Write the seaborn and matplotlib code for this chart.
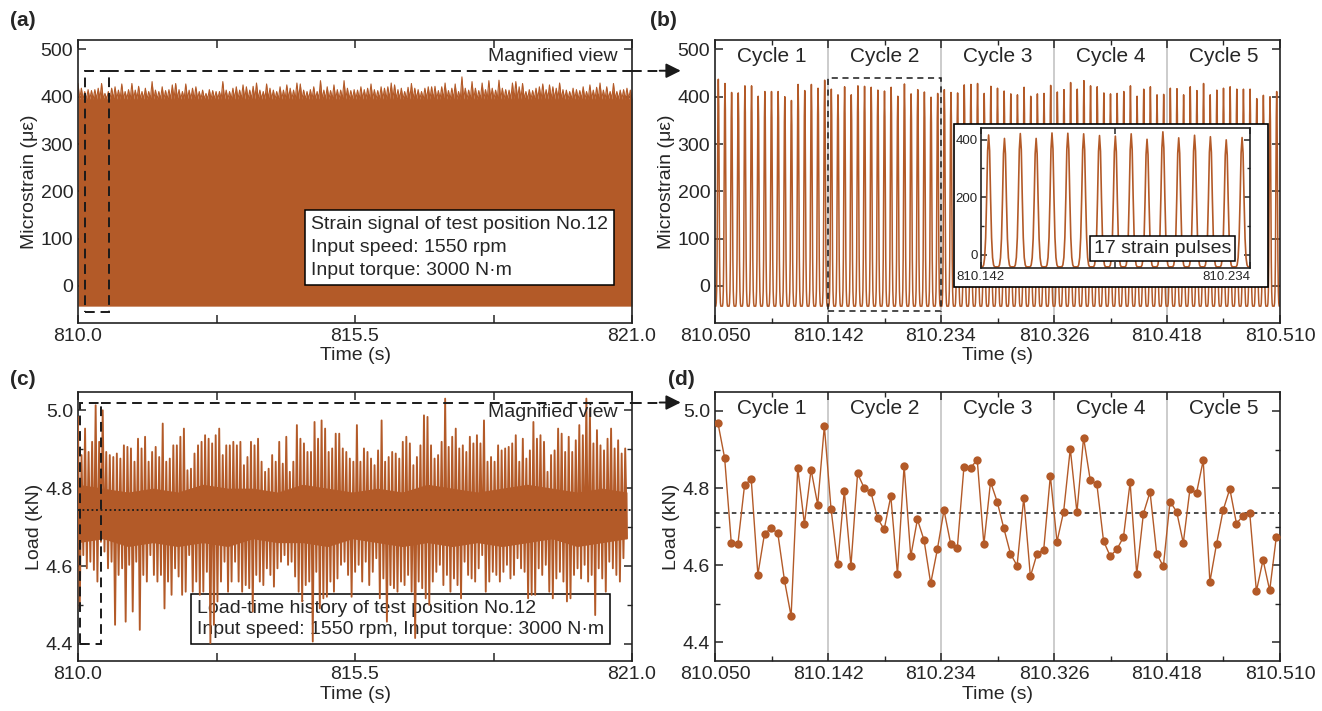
import numpy as np
import matplotlib
matplotlib.use("Agg")
import matplotlib.pyplot as plt
from matplotlib.patches import Rectangle
from matplotlib.ticker import FixedLocator, MultipleLocator
import seaborn as sns

# ---------------- data ----------------
# (a) tip heights of the dense strain pulse train, 810-821 s (µε)
strain_a_peaks = [
    428, 418, 411, 415, 413, 415, 418, 428, 407, 411, 418, 421, 414, 427, 411, 415, 428, 414, 422, 411,
    418, 411, 432, 414, 411, 421, 413, 415, 425, 428, 415, 411, 427, 414, 418, 421, 411, 414, 407, 415,
    413, 411, 411, 432, 414, 411, 418, 421, 414, 425, 421, 414, 422, 429, 414, 411, 427, 418, 414, 411,
    421, 414, 425, 418, 414, 429, 427, 414, 411, 415, 421, 411, 434, 414, 421, 413, 425, 415, 414, 434,
    418, 413, 415,
    414, 421, 415, 418, 427, 415, 413, 421, 418, 421, 429, 425, 415, 418, 411, 420, 428, 418, 415, 411,
    418, 421, 421, 422, 413, 421, 429, 413, 418, 427, 411, 442, 418, 414, 432, 418, 413, 429, 415, 434,
    418, 414, 435, 418, 415, 414, 429, 432, 421, 428, 411, 415, 413, 418, 421, 427, 415, 425, 421, 418,
    429, 415, 414, 411, 418, 415, 413, 421, 411, 425, 414, 420, 429, 414, 421, 411, 428, 411, 414, 415,
    418, 414,
]
strain_a_solid = 395     # level up to which the block is solid
strain_trough = -43      # strain between pulses

# (b) peak strain of the 85 pulses (5 cycles x 17 pulses)
strain_b_peaks = [
    437, 428, 409, 408, 423, 423, 401, 411, 411, 411, 400, 392, 426, 413, 426, 418, 435,
    416, 404, 421, 404, 423, 422, 420, 414, 412, 420, 401, 427, 406, 415, 410, 399, 407,
    415, 409, 408, 425, 426, 428, 407, 422, 418, 412, 406, 404, 420, 401, 406, 407, 424,
    410, 415, 430, 416, 434, 423, 421, 408, 406, 407, 411, 423, 401, 416, 421, 404, 405,
    418, 417, 404, 421, 413, 428, 404, 414, 418, 421, 416, 416, 416, 396, 403, 400, 411,
]
# one pulse period (fraction of trough-to-peak height)
pulse_shape = [0.0, 0.0, 0.0, 0.015, 0.07, 0.22, 0.52, 0.88, 1.0, 0.88, 0.52, 0.22, 0.07, 0.015, 0.0, 0.0]

# (c) load spike tips, upper and lower, 810-821 s (kN)
load_c_top = [
    4.983, 4.885, 4.953, 4.893, 4.919, 5.013, 4.919, 5.000, 4.893, 4.885, 4.880, 4.889, 4.876, 4.910, 4.906,
    4.902, 4.868, 4.927, 4.902, 4.932, 4.868, 4.893, 4.906, 4.880, 4.966, 4.868, 4.876, 4.910, 4.910, 4.932,
    4.953, 4.846, 4.850, 4.889, 4.910, 4.919, 4.936, 4.927, 4.915, 4.936, 4.953, 4.885, 4.910, 4.910, 4.919,
    4.910, 4.919, 4.859, 4.880, 4.919,
    4.910, 4.927, 4.868, 4.842, 4.850, 4.885, 4.868, 4.919, 4.863, 4.932, 4.842, 4.868, 4.962, 4.927, 4.915,
    4.893, 4.893, 4.970, 4.927, 4.974, 4.953, 4.893, 4.902, 4.940, 4.940, 4.902, 4.893, 4.876, 4.868, 4.962,
    4.868, 4.902, 4.893, 4.876, 4.859, 4.897, 4.974, 4.868, 4.880, 4.893, 4.889, 4.876, 4.919, 4.932, 4.915,
    4.859, 4.880, 4.910, 4.987, 4.983, 4.910,
    4.876, 4.885, 4.919, 5.030, 4.906, 4.932, 4.953, 4.902, 4.910, 4.893, 4.932, 4.915, 4.936, 4.915, 4.974,
    4.868, 4.880, 4.868, 4.910, 4.897, 4.902, 4.906, 4.915, 4.936, 4.868, 4.927, 4.876, 4.897, 4.970, 4.927,
    4.936, 4.919, 4.842, 4.885, 4.897, 4.953, 4.940, 4.893, 4.932, 4.893, 4.923, 4.962, 4.936, 5.030, 5.004,
    4.915, 4.949, 4.910, 4.897, 4.927, 4.953, 4.902, 4.923, 4.889, 4.902,
]
load_c_bottom = [
    4.491, 4.628, 4.594, 4.611, 4.590, 4.560, 4.662, 4.637, 4.594, 4.611, 4.449, 4.577, 4.594, 4.457, 4.603,
    4.483, 4.611, 4.436, 4.577, 4.560, 4.628, 4.577, 4.560, 4.577, 4.491, 4.560, 4.526, 4.594, 4.573, 4.526,
    4.534, 4.628, 4.534, 4.560, 4.526, 4.534, 4.585, 4.402, 4.449, 4.509, 4.560, 4.611, 4.534, 4.560, 4.611,
    4.560, 4.534, 4.551, 4.543, 4.483,
    4.577, 4.560, 4.551, 4.594, 4.577, 4.547, 4.594, 4.611, 4.628, 4.603, 4.611, 4.573, 4.534, 4.509, 4.551,
    4.560, 4.406, 4.585, 4.491, 4.517, 4.521, 4.560, 4.534, 4.568, 4.603, 4.611, 4.577, 4.521, 4.585, 4.603,
    4.560, 4.611, 4.551, 4.585, 4.620, 4.517, 4.568, 4.457, 4.551, 4.543, 4.534, 4.560, 4.551, 4.577, 4.534,
    4.415, 4.560, 4.543, 4.517, 4.500, 4.560,
    4.585, 4.603, 4.551, 4.577, 4.534, 4.568, 4.551, 4.517, 4.611, 4.577, 4.568, 4.560, 4.594, 4.628, 4.534,
    4.560, 4.585, 4.577, 4.560, 4.585, 4.603, 4.568, 4.577, 4.620, 4.594, 4.585, 4.517, 4.526, 4.526, 4.594,
    4.577, 4.603, 4.534, 4.517, 4.568, 4.585, 4.560, 4.509, 4.517, 4.577, 4.594, 4.568, 4.603, 4.560, 4.577,
    4.474, 4.594, 4.568, 4.534, 4.611, 4.594, 4.577, 4.560, 4.620, 4.671,
]
# (c) edges of the solid core of the load band, every 0.5 s (kN)
load_c_core_hi = [4.81, 4.80, 4.79, 4.80, 4.79, 4.81, 4.80, 4.80, 4.79, 4.81, 4.80, 4.79,
                  4.80, 4.79, 4.81, 4.80, 4.79, 4.80, 4.81, 4.80, 4.79, 4.80, 4.79]
load_c_core_lo = [4.66, 4.67, 4.65, 4.66, 4.65, 4.66, 4.65, 4.67, 4.66, 4.66, 4.65, 4.67,
                  4.66, 4.65, 4.66, 4.65, 4.66, 4.65, 4.66, 4.67, 4.65, 4.66, 4.67]
load_c_mean = 4.744

# (d) load carried by each of the 85 strain pulses (kN)
load_d = [
    4.968, 4.878, 4.658, 4.656, 4.808, 4.823, 4.576, 4.682, 4.696, 4.683, 4.561, 4.468, 4.852, 4.707, 4.848, 4.757, 4.961,
    4.747, 4.603, 4.793, 4.598, 4.838, 4.800, 4.790, 4.722, 4.693, 4.779, 4.577, 4.858, 4.623, 4.719, 4.665, 4.553, 4.641,
    4.743, 4.656, 4.644, 4.855, 4.852, 4.874, 4.654, 4.816, 4.765, 4.696, 4.630, 4.599, 4.775, 4.571, 4.630, 4.640, 4.832,
    4.661, 4.739, 4.902, 4.737, 4.931, 4.821, 4.810, 4.663, 4.624, 4.641, 4.673, 4.815, 4.577, 4.734, 4.790, 4.630, 4.597,
    4.765, 4.739, 4.658, 4.797, 4.788, 4.872, 4.557, 4.655, 4.743, 4.798, 4.708, 4.729, 4.735, 4.533, 4.614, 4.535, 4.674,
]
load_d_mean = 4.735

cycle_edges = [810.050, 810.142, 810.234, 810.326, 810.418, 810.510]
cycle_names = ["Cycle 1", "Cycle 2", "Cycle 3", "Cycle 4", "Cycle 5"]
long_ticks = [810.0, 812.75, 815.5, 818.25, 821.0]
long_labels = ["810.0", "", "815.5", "", "821.0"]

# ---------------- style ----------------
sns.set_theme(style="ticks")
plt.rcParams["font.family"] = ["Liberation Sans Narrow", "Liberation Sans", "DejaVu Sans"]
plt.rcParams.update({
    "font.size": 14,
    "axes.linewidth": 1.2,
    "axes.edgecolor": "#222222",
    "xtick.direction": "in", "ytick.direction": "in",
    "xtick.top": True, "ytick.right": True,
    "xtick.major.size": 6, "ytick.major.size": 6,
    "xtick.minor.size": 3.5, "ytick.minor.size": 3.5,
    "xtick.major.width": 1.1, "ytick.major.width": 1.1,
    "xtick.labelsize": 14, "ytick.labelsize": 14,
    "axes.labelsize": 14,
})
C = "#b35a28"

W, H = 1322, 711
fig = plt.figure(figsize=(W / 100, H / 100), dpi=100)


def box(l, t, r, b):
    return [l / W, 1 - b / H, (r - l) / W, (b - t) / H]


B_L, B_R, B_T, B_B = 715, 1280, 40, 322.7
ax_a = fig.add_axes(box(78, 40, 632, 322.7))
ax_b = fig.add_axes(box(B_L, B_T, B_R, B_B))
ax_c = fig.add_axes(box(78, 392, 632, 661))
ax_d = fig.add_axes(box(B_L, 392, B_R, 661))

# ---------------- build series ----------------
n_a = len(strain_a_peaks)
t_a = np.linspace(810.0, 821.0, 2 * n_a)
y_a = np.empty(2 * n_a)
y_a[0::2] = strain_a_peaks
y_a[1::2] = strain_a_solid

n_p = len(strain_b_peaks)
dt = (cycle_edges[-1] - cycle_edges[0]) / n_p
k = len(pulse_shape)
t_b = cycle_edges[0] + np.arange(n_p * k + 1) * dt / k
y_b = []
for pk in strain_b_peaks:
    y_b.extend(strain_trough + (pk - strain_trough) * np.array(pulse_shape))
y_b.append(strain_trough)
y_b = np.array(y_b)

n_c = len(load_c_top)
t_c = np.linspace(810.0, 820.9, 2 * n_c)
y_c = np.empty(2 * n_c)
y_c[0::2] = load_c_top
y_c[1::2] = load_c_bottom
t_core = np.linspace(810.0, 820.9, len(load_c_core_hi))

t_d = cycle_edges[0] + (np.arange(len(load_d)) + 0.45) * dt

# ---------------- (a) ----------------
ax = ax_a
ax.fill_between(t_a, strain_trough, y_a, color=C, lw=0, zorder=2)
sns.lineplot(x=t_a, y=y_a, ax=ax, color=C, lw=0.8, estimator=None, sort=False, zorder=2)
ax.set_xlim(810.0, 821.0)
ax.set_ylim(-78, 520)
ax.xaxis.set_major_locator(FixedLocator(long_ticks))
ax.set_xticklabels(long_labels)
ax.set_yticks(range(0, 501, 100))
ax.set_xlabel("Time (s)", labelpad=2)
ax.set_ylabel("Microstrain (με)", labelpad=2)
ax.add_patch(Rectangle((810.13, -55), 0.48, 510, fill=False, ls=(0, (5, 3)), lw=1.4, color="k", zorder=5))
ax.plot([810.61, 821.0], [455, 455], color="k", ls=(0, (5, 3)), lw=1.4, zorder=5)
ax.plot([1.0, 1.055], [455, 455], color="k", ls=(0, (5, 3)), lw=1.4, zorder=5,
        transform=ax.get_yaxis_transform(), clip_on=False)
ax.annotate("", xy=(1.088, 455), xycoords=ax.get_yaxis_transform(),
            xytext=(1.05, 455), textcoords=ax.get_yaxis_transform(),
            arrowprops=dict(arrowstyle="-|>", color="k", lw=1.4, mutation_scale=22, shrinkA=0, shrinkB=0))
ax.text(0.857, 0.94, "Magnified view", transform=ax.transAxes, ha="center", va="center", fontsize=14)
ax.text(0.42, 0.155, "Strain signal of test position No.12\nInput speed: 1550 rpm\nInput torque: 3000 N·m",
        transform=ax.transAxes, ha="left", va="bottom", fontsize=14, linespacing=1.45, zorder=6,
        bbox=dict(boxstyle="square,pad=0.3", fc="white", ec="black", lw=1.1))

# ---------------- (b) ----------------
ax = ax_b
for e in cycle_edges[1:-1]:
    ax.axvline(e, color="#c4c4c4", lw=1.2, zorder=0.5)
sns.lineplot(x=t_b, y=y_b, ax=ax, color=C, lw=1.1, estimator=None, sort=False, zorder=2)
ax.set_xlim(cycle_edges[0], cycle_edges[-1])
ax.set_ylim(-78, 520)
ax.xaxis.set_major_locator(FixedLocator(cycle_edges))
ax.set_xticklabels([f"{e:.3f}" for e in cycle_edges])
ax.xaxis.set_minor_locator(FixedLocator([(a + b) / 2 for a, b in zip(cycle_edges[:-1], cycle_edges[1:])]))
ax.set_yticks(range(0, 501, 100))
ax.set_xlabel("Time (s)", labelpad=2)
ax.set_ylabel("Microstrain (με)", labelpad=2)
for a, b, name in zip(cycle_edges[:-1], cycle_edges[1:], cycle_names):
    ax.text((a + b) / 2, 0.94, name, transform=ax.get_xaxis_transform(), ha="center", va="center", fontsize=15)
ax.add_patch(Rectangle((cycle_edges[1], -53), cycle_edges[2] - cycle_edges[1], 492, fill=False,
                       ls=(0, (4, 3)), lw=1.1, color="k", zorder=3))
bw, bh = B_R - B_L, B_B - B_T
ax.add_patch(Rectangle(((954 - B_L) / bw, (B_B - 287) / bh), (1268 - 954) / bw, (287 - 124) / bh,
                       transform=ax.transAxes, fc="white", ec="black", lw=1.2, zorder=6))

# inset
ins = fig.add_axes(box(980.7, 127.5, 1250, 268.3))
ins.set_zorder(5)
sns.lineplot(x=t_b, y=y_b, ax=ins, color=C, lw=1.2, estimator=None, sort=False)
ins.set_xlim(cycle_edges[1], cycle_edges[2])
ins.set_ylim(-48, 442)
ins.xaxis.set_major_locator(FixedLocator([cycle_edges[1], (cycle_edges[1] + cycle_edges[2]) / 2, cycle_edges[2]]))
ins.set_xticklabels([f"{cycle_edges[1]:.3f}", "", f"{cycle_edges[2]:.3f}"])
ins.get_xticklabels()[-1].set_horizontalalignment("right")
ins.get_xticklabels()[-1].set_x(cycle_edges[2])
ins.set_yticks([0, 200, 400])
ins.yaxis.set_minor_locator(FixedLocator([100, 300]))
ins.tick_params(labelsize=9.5, pad=2, length=4)
ins.tick_params(which="minor", length=2.5)
ins.text(0.675, 0.14, "17 strain pulses", transform=ins.transAxes, ha="center", va="center", fontsize=14,
         bbox=dict(boxstyle="square,pad=0.2", fc="white", ec="black", lw=1.1))

# ---------------- (c) ----------------
ax = ax_c
ax.fill_between(t_core, load_c_core_lo, load_c_core_hi, color=C, lw=0, zorder=3)
sns.lineplot(x=t_c, y=y_c, ax=ax, color=C, lw=1.35, estimator=None, sort=False, zorder=3)
ax.axhline(load_c_mean, color="k", ls=(0, (1, 1.5)), lw=1.3, zorder=4)
ax.set_xlim(810.0, 821.0)
ax.set_ylim(4.356, 5.047)
ax.xaxis.set_major_locator(FixedLocator(long_ticks))
ax.set_xticklabels(long_labels)
ax.set_yticks([4.4, 4.6, 4.8, 5.0])
ax.yaxis.set_minor_locator(MultipleLocator(0.1))
ax.set_xlabel("Time (s)", labelpad=2)
ax.set_ylabel("Load (kN)", labelpad=2)
ax.add_patch(Rectangle((810.03, 4.40), 0.42, 0.62, fill=False, ls=(0, (5, 3)), lw=1.4, color="k", zorder=5))
ax.plot([810.45, 821.0], [5.02, 5.02], color="k", ls=(0, (5, 3)), lw=1.4, zorder=5)
ax.plot([1.0, 1.055], [5.02, 5.02], color="k", ls=(0, (5, 3)), lw=1.4, zorder=5,
        transform=ax.get_yaxis_transform(), clip_on=False)
ax.annotate("", xy=(1.088, 5.02), xycoords=ax.get_yaxis_transform(),
            xytext=(1.05, 5.02), textcoords=ax.get_yaxis_transform(),
            arrowprops=dict(arrowstyle="-|>", color="k", lw=1.4, mutation_scale=22, shrinkA=0, shrinkB=0))
ax.text(0.857, 0.925, "Magnified view", transform=ax.transAxes, ha="center", va="center", fontsize=14, zorder=6)
ax.text(0.215, 0.085, "Load-time history of test position No.12\nInput speed: 1550 rpm, Input torque: 3000 N·m",
        transform=ax.transAxes, ha="left", va="bottom", fontsize=14, linespacing=1.3, zorder=1,
        bbox=dict(boxstyle="square,pad=0.3", fc="white", ec="black", lw=1.1))

# ---------------- (d) ----------------
ax = ax_d
for e in cycle_edges[1:-1]:
    ax.axvline(e, color="#c4c4c4", lw=1.2, zorder=0.5)
ax.axhline(load_d_mean, color="k", ls=(0, (3, 2.5)), lw=1.1, zorder=2)
sns.lineplot(x=t_d, y=load_d, ax=ax, color=C, lw=1.0, marker="o", markersize=6,
             markeredgewidth=0, estimator=None, sort=False, zorder=3)
ax.set_xlim(cycle_edges[0], cycle_edges[-1])
ax.set_ylim(4.352, 5.049)
ax.xaxis.set_major_locator(FixedLocator(cycle_edges))
ax.set_xticklabels([f"{e:.3f}" for e in cycle_edges])
ax.xaxis.set_minor_locator(FixedLocator([(a + b) / 2 for a, b in zip(cycle_edges[:-1], cycle_edges[1:])]))
ax.set_yticks([4.4, 4.6, 4.8, 5.0])
ax.yaxis.set_minor_locator(MultipleLocator(0.1))
ax.set_xlabel("Time (s)", labelpad=2)
ax.set_ylabel("Load (kN)", labelpad=2)
for a, b, name in zip(cycle_edges[:-1], cycle_edges[1:], cycle_names):
    ax.text((a + b) / 2, 0.94, name, transform=ax.get_xaxis_transform(), ha="center", va="center", fontsize=15)

# panel letters
for x, y, s in [(10, 20, "(a)"), (650, 20, "(b)"), (10, 380, "(c)"), (668, 380, "(d)")]:
    fig.text(x / W, 1 - y / H, s, ha="left", va="center", fontsize=15, fontweight="bold")

fig.savefig("out.png", dpi=100)
